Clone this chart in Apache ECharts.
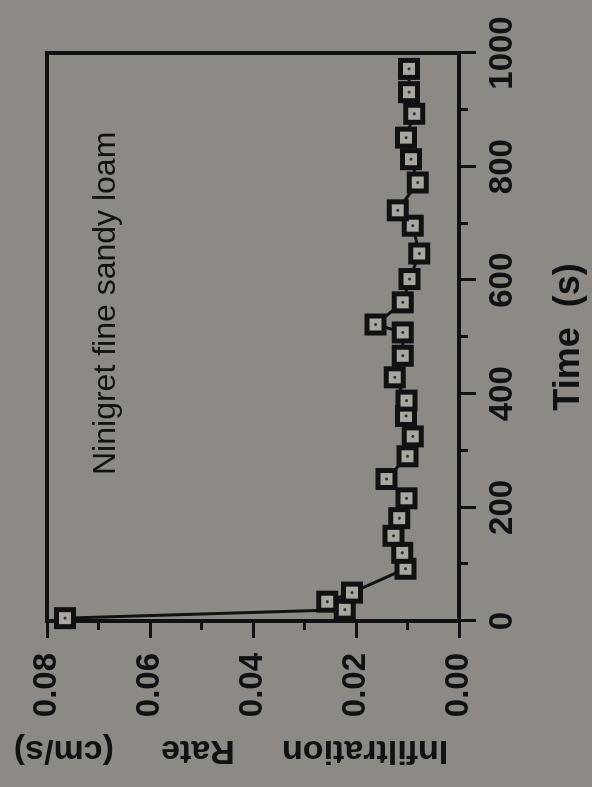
<!DOCTYPE html>
<html>
<head>
<meta charset="utf-8">
<script src="https://cdn.jsdelivr.net/npm/echarts@6/dist/echarts.min.js"></script>
<style>
  html, body { margin: 0; padding: 0; background: #8d8a85; overflow: hidden; }
  /* the original figure is printed sideways, so draw it normally and turn the box */
  .myEbox {
    position: absolute; left: 0; top: 0;
    width: 787px; height: 592px;
    transform-origin: 0 0;
    transform: translateY(787px) rotate(-90deg);
  }
</style>
</head>
<body>
<div class="myEbox"></div>
<script>
// 入渗速率 vs 时间 (Ninigret fine sandy loam)
const timeSec = [5, 20, 34, 50, 92, 120, 150, 181, 216, 250, 290, 325, 361, 388, 429,
                 467, 508, 522, 561, 602, 647, 696, 723, 772, 813, 851, 893, 931, 972];
const rateCmS = [0.0765, 0.0222, 0.0256, 0.0208, 0.0104, 0.0110, 0.0127, 0.0116, 0.0102, 0.0141,
                 0.0100, 0.0090, 0.0103, 0.0102, 0.0125, 0.0109, 0.0109, 0.0162, 0.0109, 0.0096,
                 0.0077, 0.0090, 0.0119, 0.0080, 0.0093, 0.0103, 0.0087, 0.0097, 0.0097];
const soilName = 'Ninigret fine sandy loam';
const xName = 'Time  (s)';
const yName = 'Infiltration     Rate     (cm/s)';

const ink = '#111';
const font = 'Liberation Sans, Arial, sans-serif';

let points = timeSec.map((t, i) => [t, rateCmS[i]]);

function axisBase(min, max, step) {
	return {
		type: 'value',
		min: min,
		max: max,
		interval: step,
		axisLine: { show: true, onZero: false, lineStyle: { color: ink, width: 4 } },
		axisTick: { show: true, inside: false, length: 17, lineStyle: { color: ink, width: 3 } },
		minorTick: { show: true, splitNumber: 2, length: 9, lineStyle: { color: ink, width: 3 } },
		splitLine: { show: false },
		axisLabel: { color: ink, fontSize: 33, fontWeight: 'bold', fontFamily: font }
	};
}

let xAxis = axisBase(0, 1000, 200);
xAxis.axisLabel.margin = 27;
xAxis.axisLabel.formatter = v => String(v);
xAxis.name = xName;
xAxis.nameLocation = 'middle';
xAxis.nameGap = 92;
xAxis.nameTextStyle = { color: ink, fontSize: 36, fontWeight: 'bold', fontFamily: font };

let yAxis = axisBase(0, 0.08, 0.02);
yAxis.axisLabel.margin = 32;
yAxis.axisLabel.formatter = v => v.toFixed(2);
yAxis.name = yName;
yAxis.nameLocation = 'middle';
yAxis.nameGap = 112;
yAxis.nameTextStyle = { color: ink, fontSize: 34, fontWeight: 'bold', fontFamily: font, padding: [0, 0, 0, 44] };

let myChart = echarts.init(document.querySelector('.myEbox'));
let option = {
	backgroundColor: '#8d8a85',
	animation: false,
	title: {
		text: soilName,
		left: 307,
		top: 85,
		textStyle: { color: ink, fontSize: 32, fontWeight: 'normal', fontFamily: font }
	},
	grid: {
		left: 166, right: 53, top: 47, bottom: 130,
		show: true, borderColor: ink, borderWidth: 4, backgroundColor: 'transparent'
	},
	xAxis: xAxis,
	yAxis: yAxis,
	series: [
		{
			type: 'line',
			data: points,
			symbol: 'rect',
			symbolSize: 17,
			showAllSymbol: true,
			lineStyle: { color: ink, width: 3 },
			itemStyle: { color: '#aaa7a1', borderColor: ink, borderWidth: 5 }
		},
		{
			// the little dot inside each square
			type: 'scatter',
			data: points,
			symbol: 'circle',
			symbolSize: 3,
			silent: true,
			itemStyle: { color: ink },
			z: 5
		}
	]
};
myChart.setOption(option);
</script>
</body>
</html>
